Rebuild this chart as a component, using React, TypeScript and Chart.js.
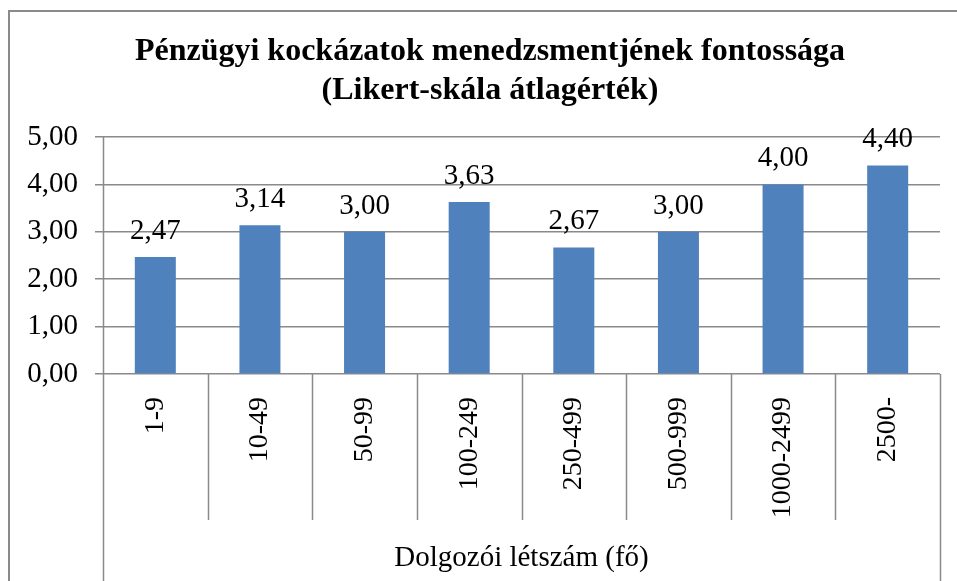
import { useEffect, useRef } from 'react';
import { Chart, registerables } from 'chart.js';

Chart.register(...registerables);

const categories = ['1-9', '10-49', '50-99', '100-249', '250-499', '500-999', '1000-2499', '2500-'];
const values = [2.47, 3.14, 3.0, 3.63, 2.67, 3.0, 4.0, 4.4];
const yTickValues = [0, 1, 2, 3, 4, 5];
const titleLines = ['Pénzügyi kockázatok menedzsmentjének fontossága', '(Likert-skála átlagérték)'];
const xAxisTitle = 'Dolgozói létszám (fő)';

const W = 957;
const H = 581;
const LINE = '#8a8a8a';
const FONT = '"Liberation Serif", "Times New Roman", serif';
const FRAME_LEFT = 9;
const FRAME_TOP = 11;
const FRAME_RIGHT = 971; // the outer chart frame continues past the visible window
const TEXT_SIZE = 29;

const fmt = (v: number) => v.toFixed(2).replace('.', ',');

const framePlugin = {
  id: 'frame',
  beforeDraw(chart: any) {
    const ctx = chart.ctx;
    ctx.save();
    ctx.fillStyle = '#ffffff';
    ctx.fillRect(0, 0, chart.width, chart.height);
    ctx.strokeStyle = LINE;
    ctx.lineWidth = 2;
    ctx.beginPath();
    ctx.moveTo(FRAME_LEFT, chart.height + 2);
    ctx.lineTo(FRAME_LEFT, FRAME_TOP);
    ctx.lineTo(chart.width + 2, FRAME_TOP);
    ctx.stroke();
    ctx.restore();
  },
};

const titlePlugin = {
  id: 'chartTitle',
  afterDraw(chart: any) {
    const ctx = chart.ctx;
    const cx = (FRAME_LEFT + FRAME_RIGHT) / 2;
    ctx.save();
    ctx.font = `bold 32px ${FONT}`;
    ctx.fillStyle = '#000000';
    ctx.textAlign = 'center';
    ctx.textBaseline = 'alphabetic';
    ctx.fillText(titleLines[0], cx, 60);
    ctx.fillText(titleLines[1], cx, 99);
    ctx.restore();
  },
};

const separatorsPlugin = {
  id: 'separators',
  afterDraw(chart: any) {
    const ctx = chart.ctx;
    const area = chart.chartArea;
    const xs = chart.scales.x;
    const n = categories.length;
    const w = (area.right - area.left) / n;
    ctx.save();
    ctx.strokeStyle = LINE;
    ctx.lineWidth = 1.5;
    ctx.beginPath();
    for (let i = 1; i < n; i++) {
      const x = Math.round(xs.getPixelForValue(i) - w / 2) + 0.5;
      ctx.moveTo(x, area.bottom);
      ctx.lineTo(x, area.bottom + 146);
    }
    const l = Math.round(area.left) + 0.5;
    const r = Math.round(area.right) + 0.5;
    ctx.moveTo(l, area.top);
    ctx.lineTo(l, chart.height);
    ctx.moveTo(r, area.bottom);
    ctx.lineTo(r, chart.height);
    ctx.stroke();
    ctx.restore();
  },
};

const dataLabelsPlugin = {
  id: 'dataLabels',
  afterDatasetsDraw(chart: any) {
    const ctx = chart.ctx;
    const meta = chart.getDatasetMeta(0);
    ctx.save();
    ctx.font = `${TEXT_SIZE}px ${FONT}`;
    ctx.fillStyle = '#000000';
    ctx.textAlign = 'center';
    ctx.textBaseline = 'alphabetic';
    meta.data.forEach((bar: any, i: number) => {
      ctx.fillText(fmt(values[i]), bar.x, bar.y - 18);
    });
    ctx.restore();
  },
};

export default function App() {
  const ref = useRef<HTMLCanvasElement | null>(null);

  useEffect(() => {
    if (!ref.current) return;
    Chart.defaults.font.family = FONT;
    const chart = new Chart(ref.current, {
      type: 'bar',
      data: {
        labels: categories,
        datasets: [
          {
            data: values,
            backgroundColor: '#4f81bd',
            borderWidth: 0,
            categoryPercentage: 1,
            barPercentage: 0.392,
          },
        ],
      },
      options: {
        responsive: false,
        animation: false,
        layout: { padding: { left: 10, right: 17, top: 137, bottom: 0 } },
        plugins: {
          legend: { display: false },
          tooltip: { enabled: false },
          title: { display: false },
        },
        scales: {
          x: {
            grid: { display: false },
            border: { display: false },
            ticks: {
              color: '#000000',
              font: { family: FONT, size: 28 },
              minRotation: 90,
              maxRotation: 90,
              autoSkip: false,
              padding: 15,
            },
            title: {
              display: true,
              text: xAxisTitle,
              color: '#000000',
              font: { family: FONT, size: TEXT_SIZE },
              padding: { top: 4, bottom: 5 },
            },
            afterFit(scale: any) {
              scale.height = H - 374;
            },
          },
          y: {
            min: 0,
            max: 5,
            afterBuildTicks(scale: any) {
              scale.ticks = yTickValues.map((v) => ({ value: v }));
            },
            grid: { color: LINE, lineWidth: 1.5, tickLength: 8 },
            border: { display: false },
            ticks: {
              color: '#000000',
              font: { family: FONT, size: TEXT_SIZE },
              padding: 17,
              callback: (v: any) => fmt(Number(v)),
            },
            afterFit(scale: any) {
              scale.width = 93;
            },
          },
        },
      },
      plugins: [framePlugin, separatorsPlugin, dataLabelsPlugin, titlePlugin],
    });
    return () => chart.destroy();
  }, []);

  return (
    <div style={{ position: 'absolute', left: 0, top: 0, width: W, height: H }}>
      <canvas ref={ref} width={W} height={H} style={{ display: 'block' }} />
    </div>
  );
}
